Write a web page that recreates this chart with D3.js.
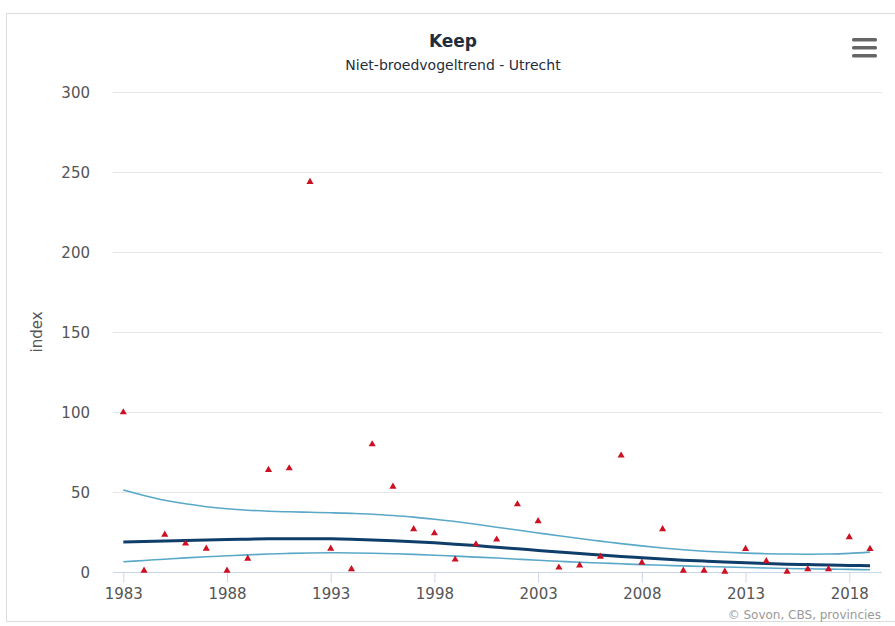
<!DOCTYPE html>
<html>
<head>
<meta charset="utf-8">
<script src="https://cdn.jsdelivr.net/npm/d3@7"></script>
<style>
    body { margin: 0; background: #fff; }
    svg { display: block; font-family: "DejaVu Sans", Verdana, sans-serif; }
</style>
</head>
<body>
<div id="chart"></div>
<script>
// Keep - Niet-broedvogeltrend Utrecht
const years = d3.range(1983, 2020);
const indexValues = [100, 1, 23.5, 18, 14.8, 1, 8.5, 64, 65, 244, 14.8, 2, 80, 53.5, 27, 24.4, 8, 17.5, 20.5, 42.5,
    32, 3, 4.3, 9.8, 73, 6, 27, 1, 1, 0.4, 14.6, 7, 0.4, 2, 2, 22, 14.6];
const trend = [19, 19.3, 19.6, 19.9, 20.2, 20.5, 20.7, 20.9, 21, 21, 20.9, 20.6, 20.2, 19.7, 19.1, 18.4, 17.6, 16.7,
    15.7, 14.7, 13.7, 12.7, 11.7, 10.8, 9.9, 9.1, 8.3, 7.6, 7.0, 6.4, 5.9, 5.5, 5.1, 4.8, 4.5, 4.3, 4.1];
const upper = [51.5, 48, 45, 42.8, 41, 39.7, 38.8, 38.2, 37.8, 37.5, 37.2, 36.8, 36.3, 35.5, 34.5, 33.2, 31.7, 30,
    28.2, 26.4, 24.6, 22.8, 21.1, 19.5, 17.9, 16.5, 15.2, 14.1, 13.2, 12.5, 12, 11.6, 11.4, 11.3, 11.4, 11.8, 12.6];
const lower = [6.6, 7.4, 8.2, 9, 9.7, 10.3, 10.9, 11.4, 11.8, 12.1, 12.2, 12.1, 11.9, 11.6, 11.2, 10.7, 10.1, 9.5,
    8.9, 8.2, 7.5, 6.9, 6.3, 5.8, 5.3, 4.8, 4.4, 4, 3.6, 3.3, 3, 2.7, 2.4, 2.2, 2, 1.8, 1.6];
const xTicks = [1983, 1988, 1993, 1998, 2003, 2008, 2013, 2018];
const yTicks = [0, 50, 100, 150, 200, 250, 300];

const width = 895, height = 626;
const plot = { left: 113, right: 882, top: 92, bottom: 572 };

const svg = d3.select("#chart").append("svg")
    .attr("width", width)
    .attr("height", height);

// chart frame
svg.append("rect")
    .attr("x", 6.5).attr("y", 13.5)
    .attr("width", 920).attr("height", 608)
    .attr("fill", "#fff")
    .attr("stroke", "#dcdcdc");

const x = d3.scaleLinear().domain([1983, 2019]).range([123.3, 870]);
const y = d3.scaleLinear().domain([0, 300]).range([572.3, 92.3]);

// grid lines
svg.append("g")
    .selectAll("line")
    .data(yTicks.filter(d => d > 0))
    .enter().append("line")
    .attr("x1", plot.left).attr("x2", plot.right)
    .attr("y1", d => Math.round(y(d)) + 0.5)
    .attr("y2", d => Math.round(y(d)) + 0.5)
    .attr("stroke", "#e6e6e6");

// y labels
svg.append("g")
    .selectAll("text")
    .data(yTicks)
    .enter().append("text")
    .attr("x", 90)
    .attr("y", d => y(d))
    .attr("dy", "0.35em")
    .attr("text-anchor", "end")
    .attr("font-size", 15)
    .attr("fill", "#555")
    .text(d => d);

svg.append("text")
    .attr("transform", `translate(42,${(plot.top + plot.bottom) / 2}) rotate(-90)`)
    .attr("text-anchor", "middle")
    .attr("font-size", 15)
    .attr("fill", "#555")
    .text("index");

// x axis
const xAxis = svg.append("g")
    .attr("transform", `translate(0,${Math.round(y(0)) + 0.5})`)
    .call(d3.axisBottom(x).tickValues(xTicks).tickFormat(d3.format("d")).tickSize(10).tickPadding(6));
xAxis.select(".domain").remove();
xAxis.selectAll(".tick line").attr("stroke", "#ccd6eb");
xAxis.selectAll(".tick text")
    .attr("font-size", 15)
    .attr("font-family", "DejaVu Sans, sans-serif")
    .attr("fill", "#555");
xAxis.insert("line", ":first-child")
    .attr("x1", plot.left).attr("x2", plot.right)
    .attr("stroke", "#ccd6eb");

// lines
const line = vals => d3.line()
    .x((d, i) => x(years[i]))
    .y(d => y(d))
    .curve(d3.curveMonotoneX)(vals);

svg.append("g")
    .selectAll("path")
    .data([upper, lower])
    .enter().append("path")
    .attr("d", d => line(d))
    .attr("fill", "none")
    .attr("stroke", "#5aa8c8")
    .attr("stroke-width", 1.6);

svg.append("path")
    .attr("d", line(trend))
    .attr("fill", "none")
    .attr("stroke", "#0f3e6b")
    .attr("stroke-width", 3);

// points
svg.append("g")
    .selectAll("path")
    .data(indexValues)
    .enter().append("path")
    .attr("transform", (d, i) => `translate(${x(years[i])},${y(d)})`)
    .attr("d", d3.symbol(d3.symbolTriangle, 22))
    .attr("fill", "#cc1122");

// title
svg.append("text")
    .attr("x", 453).attr("y", 47)
    .attr("text-anchor", "middle")
    .attr("font-family", "DejaVu Sans, sans-serif")
    .attr("font-weight", "bold")
    .attr("font-size", 17)
    .attr("fill", "#1f2d3d")
    .text("Keep");

svg.append("text")
    .attr("x", 453).attr("y", 70)
    .attr("text-anchor", "middle")
    .attr("font-family", "DejaVu Sans, sans-serif")
    .attr("font-size", 14)
    .attr("fill", "#1f2d3d")
    .text("Niet-broedvogeltrend - Utrecht");

// menu icon
svg.append("g")
    .selectAll("rect")
    .data([0, 1, 2])
    .enter().append("rect")
    .attr("x", 852).attr("y", d => 38 + d * 8)
    .attr("width", 25).attr("height", 3.5)
    .attr("rx", 1.5)
    .attr("fill", "#666");

// credits
svg.append("text")
    .attr("x", 881).attr("y", 619)
    .attr("text-anchor", "end")
    .attr("font-size", 12)
    .attr("fill", "#999")
    .text("© Sovon, CBS, provincies");
</script>
</body>
</html>
